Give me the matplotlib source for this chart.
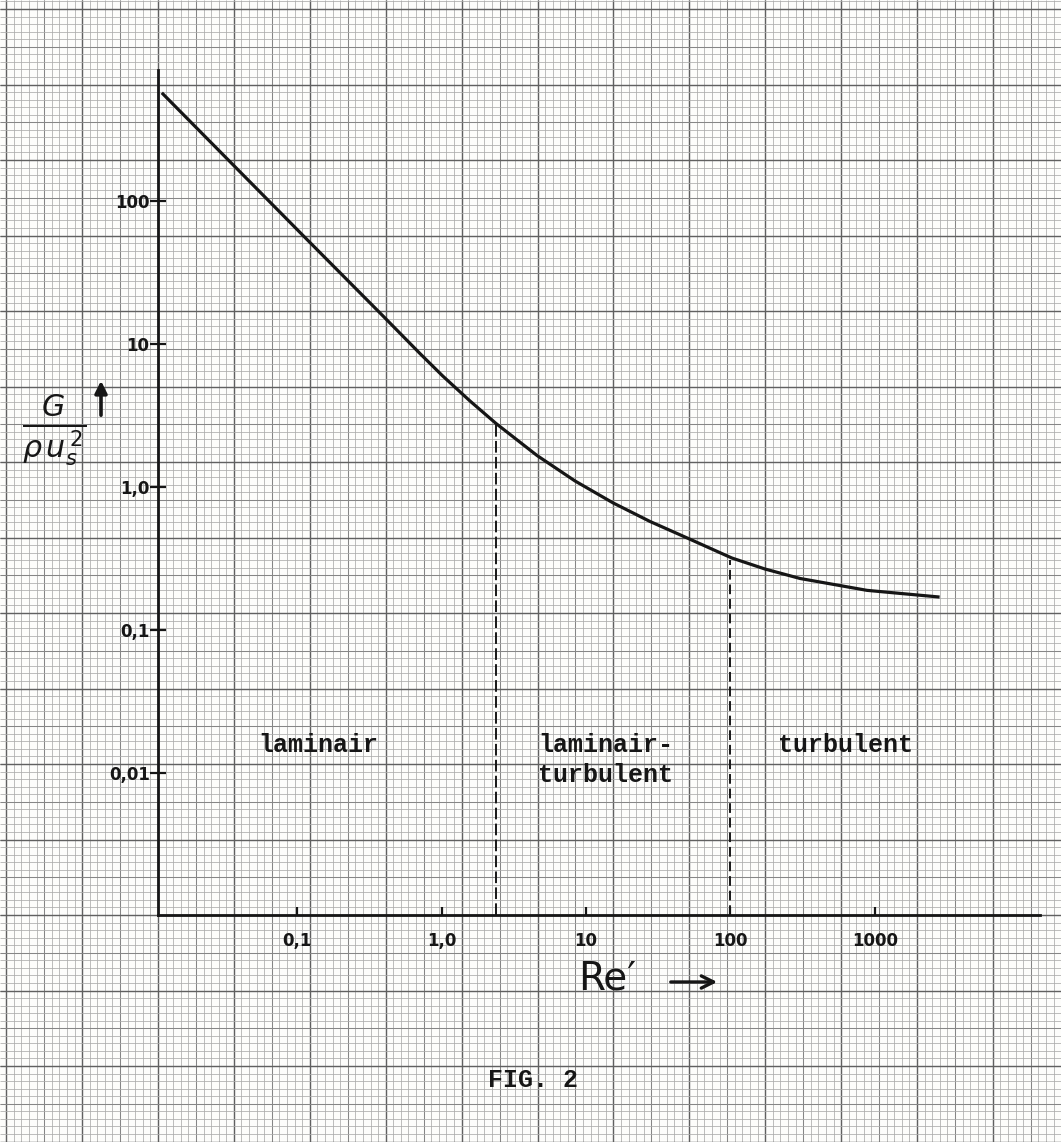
import matplotlib
matplotlib.use('Agg')
import matplotlib.pyplot as plt
import numpy as np
from matplotlib.ticker import NullLocator

W, H = 1061, 1142
INK = '#161616'

# ---------- data ----------
re_curve = [0.0118, 0.0355, 0.117, 0.394, 0.71, 1.02, 1.575, 2.38, 4.58, 8.39,
            15.4, 27.7, 50, 102, 173, 303, 881, 2730]
g_curve = [560, 182, 53.9, 15.7, 8.58, 5.98, 4.0, 2.79, 1.665, 1.105,
           0.776, 0.576, 0.442, 0.32, 0.268, 0.23, 0.19, 0.171]

re_bounds = [2.38, 100]         # regime boundaries (dashed)
g_bounds_top = [2.7, 0.31]      # where the dashed lines meet the curve

x_ticks = [0.1, 1, 10, 100, 1000]
x_labels = ['0,1', '1,0', '10', '100', '1000']
y_ticks = [100, 10, 1, 0.1, 0.01]
y_labels = ['100', '10', '1,0', '0,1', '0,01']

regimes = ['laminair', 'laminair-', 'turbulent']
regime_sub = ['', 'turbulent', '']

fig = plt.figure(figsize=(W / 100, H / 100), dpi=100)
fig.patch.set_facecolor('#fdfdfb')

# ---------- millimetre paper in pixel coordinates ----------
bg = fig.add_axes([0, 0, 1, 1], zorder=0)
bg.set_xlim(0, W)
bg.set_ylim(H, 0)
bg.axis('off')

step_x, step_y = 7.59, 7.55
kx = np.arange(-21, 120)
ky = np.arange(-40, 125)
xs = 158 + step_x * kx
ys = 915 - step_y * ky
for lines, ks, vert in ((xs, kx, True), (ys, ky, False)):
    for k_mod, col, lw in ((1, '#ababab', 0.55), (5, '#868686', 0.75), (10, '#606060', 1.0)):
        sel = lines[ks % k_mod == 0]
        if vert:
            bg.vlines(sel, 0, H, colors=col, lw=lw)
        else:
            bg.hlines(sel, 0, W, colors=col, lw=lw)

# ---------- the chart itself ----------
ax = fig.add_axes([158 / W, 1 - 915 / H, (1040 - 158) / W, (915 - 70) / H], zorder=1)
ax.patch.set_alpha(0)
ax.set_xscale('log')
ax.set_yscale('log')
ax.set_xlim(0.01091, 13870)
ax.set_ylim(0.001023, 823)

for side in ('top', 'right'):
    ax.spines[side].set_visible(False)
for side in ('left', 'bottom'):
    ax.spines[side].set_linewidth(2.0)
    ax.spines[side].set_color(INK)

ax.set_xticks(x_ticks, x_labels)
ax.set_yticks(y_ticks, y_labels)
ax.xaxis.set_minor_locator(NullLocator())
ax.yaxis.set_minor_locator(NullLocator())
ax.tick_params(axis='x', direction='in', length=6, width=1.6, pad=12,
               labelsize=12, colors=INK)
ax.tick_params(axis='y', direction='inout', length=12, width=1.6, pad=0,
               labelsize=12, colors=INK)
for lab in ax.get_xticklabels() + ax.get_yticklabels():
    lab.set_fontweight('bold')

ax.plot(re_curve, g_curve, color=INK, lw=2.3, solid_joinstyle='round')
for xb, yt, dash in zip(re_bounds, g_bounds_top, [(0, (6, 2.2)), (0, (5, 2.5))]):
    ax.plot([xb, xb], [0.001023, yt], color=INK, lw=1.4, ls=dash)

mono = dict(family='Liberation Mono', weight='bold', fontsize=18, color=INK)
regime_x = [0.054, 4.66, 214]
for name, sub, xr in zip(regimes, regime_sub, regime_x):
    ax.text(xr, 0.0158, name, ha='left', va='center', **mono)
    if sub:
        ax.text(xr, 0.0097, sub, ha='left', va='center', **mono)

# ---------- hand-lettered labels ----------
bg.text(578, 978, "Re\u2032", fontsize=28, color=INK, ha='left', va='center')
bg.annotate('', xy=(720, 982), xytext=(668, 982),
            arrowprops=dict(arrowstyle='->', lw=2.4, color=INK, mutation_scale=22))
bg.text(54, 430, r'$\frac{G}{\rho\,u_s^{\,2}}$', fontsize=31, color=INK,
        ha='center', va='center')
bg.annotate('', xy=(101, 378), xytext=(101, 418),
            arrowprops=dict(arrowstyle='-|>', lw=2.6, color=INK, mutation_scale=18))

bg.text(533, 1080, 'FIG. 2', ha='center', va='center', **mono)

fig.savefig('out.png', dpi=100, facecolor=fig.get_facecolor())
